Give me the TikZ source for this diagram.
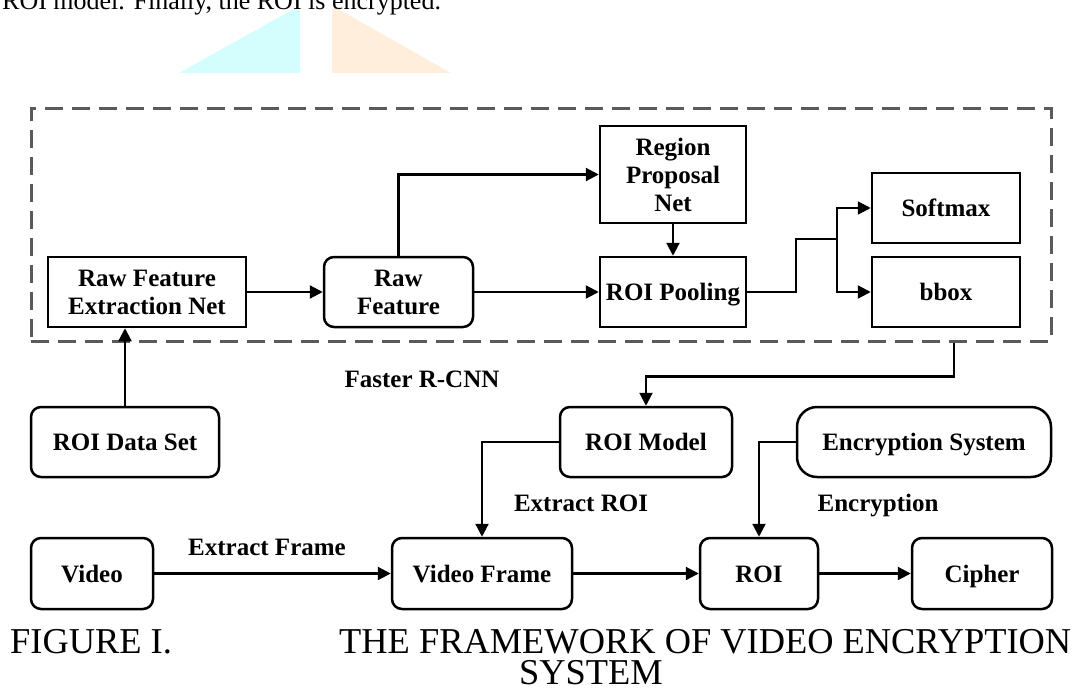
\documentclass[tikz,border=0pt]{standalone}
\usepackage{fontspec}
\setmainfont{Liberation Serif}
\usetikzlibrary{arrows.meta}
\newcommand\diagfont{\fontsize{25}{28}\selectfont\bfseries}
\newcommand\capfont{\fontsize{36.4}{31}\selectfont}
\newcommand\bodyfont{\fontsize{26}{30}\selectfont}
\definecolor{framegray}{HTML}{5A5A5A}
\definecolor{tintcyan}{HTML}{D4FEFE}
\definecolor{tintorange}{HTML}{FFEEDC}
\begin{document}
\begin{tikzpicture}[x=1pt,y=-1pt,
  box/.style={draw=black, line width=2.5pt, fill=white, inner sep=0pt,
              align=center, font=\diagfont},
  oneline/.style={text height=17pt, text depth=0pt},
  sqbox/.style={box},
  rbox/.style={box, rounded corners=10pt},
  link/.style={draw=black, line width=2.2pt, -{Triangle[length=13pt,width=13pt]}},
  plain/.style={draw=black, line width=2.2pt},
  lbl/.style={font=\diagfont, inner sep=0pt},
  captext/.style={font=\capfont, inner sep=0pt},
]
\useasboundingbox (0,0) rectangle (1074,693);
\clip (0,0) rectangle (1074,693);

% running text line and page decoration
\node[anchor=base west, font=\bodyfont, inner sep=0pt] (lead) at (2,10)
  {ROI model. Finally, the ROI is encrypted.};
\fill[tintcyan] (179,73) -- (300,73) -- (300,10) -- (292,10) -- cycle;
\fill[tintorange] (332,73) -- (332,9) -- (338,9) -- (451,73) -- cycle;

% Faster R-CNN frame
\node[draw=framegray, line width=3pt, dash pattern=on 18pt off 9pt,
      minimum width=1020pt, minimum height=233pt, inner sep=0pt] (frame) at (541,224.5) {};

% nodes inside the frame
\node[sqbox, minimum width=198pt, minimum height=70pt] (rfen) at (147,292) {Raw Feature\\Extraction Net};
\node[rbox, minimum width=149pt, minimum height=70pt] (rawf) at (398.5,292) {Raw\\Feature};
\node[sqbox, minimum width=146pt, minimum height=97pt] (rpn) at (673,174.5) {Region\\Proposal\\Net};
\node[sqbox, oneline, minimum width=146pt, minimum height=70pt] (roip) at (673,292) {ROI Pooling};
\node[sqbox, oneline, minimum width=148pt, minimum height=70pt] (soft) at (946,208) {Softmax};
\node[sqbox, oneline, minimum width=148pt, minimum height=70pt] (bbox) at (946,292) {bbox};

% nodes below the frame
\node[rbox, oneline, minimum width=188pt, minimum height=70pt] (roids) at (125,442) {ROI Data Set};
\node[rbox, oneline, minimum width=172pt, minimum height=70pt] (roim) at (646,442) {ROI Model};
\node[box, oneline, rounded corners=20pt, minimum width=254pt, minimum height=70pt] (encs) at (924,442) {Encryption System};
\node[rbox, oneline, minimum width=122pt, minimum height=71pt] (video) at (92,573.5) {Video};
\node[rbox, oneline, minimum width=180pt, minimum height=71pt] (vframe) at (482,573.5) {Video Frame};
\node[rbox, oneline, minimum width=118pt, minimum height=71pt] (roi) at (759,573.5) {ROI};
\node[rbox, oneline, minimum width=140pt, minimum height=71pt] (cipher) at (982,573.5) {Cipher};

% connector labels
\node[lbl] (fasterlbl) at (422,379) {Faster R-CNN};
\node[lbl] (extroilbl) at (581,503) {Extract ROI};
\node[lbl] (enclbl) at (878,506) {Encryption};
\node[lbl] (extfrlbl) at (267,547) {Extract Frame};

% connectors inside the frame
\draw[link] (rfen) -- (rawf);
\draw[link] (rawf.north) |- (rpn.west);
\draw[link] (rawf) -- (roip);
\draw[link] (rpn) -- (roip);
\coordinate (fork) at (837,239);
\draw[plain] (roip.east) -- ++(49,0) |- (fork);
\draw[link] (fork) |- (soft.west);
\draw[link] (fork) |- (bbox.west);

% connectors outside the frame
\draw[link] (roids.north) -- (roids.north |- rfen.south);
\coordinate (tap) at ([xshift=413pt]frame.south);
\draw[link] (tap) -- ++(0,34) -| (roim.north);
\draw[link] (roim.west) -| (vframe.north);
\draw[link] (encs.west) -| (roi.north);
\draw[link] (video) -- (vframe);
\draw[link] (vframe) -- (roi);
\draw[link] (roi) -- (cipher);

% figure caption (anchor base = baseline of the last line)
\node[captext, anchor=base west] (figno) at (10,653) {FIGURE I.};
\node[captext, anchor=base west, align=left] (figtitle) at (339,684)
  {THE FRAMEWORK OF VIDEO ENCRYPTION\\\hspace*{180pt}SYSTEM};
\end{tikzpicture}
\end{document}
